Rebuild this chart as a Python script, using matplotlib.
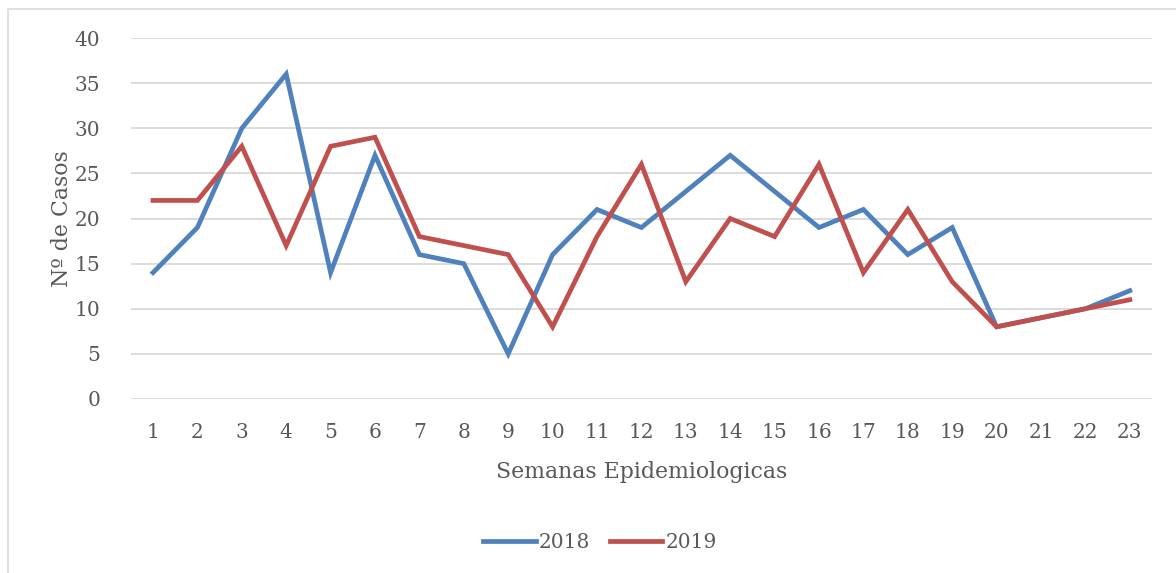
import matplotlib
matplotlib.use("Agg")
import matplotlib.pyplot as plt
from matplotlib.patches import Rectangle

weeks = list(range(1, 24))
cases_2018 = [14, 19, 30, 36, 14, 27, 16, 15, 5, 16, 21, 19, 23, 27, 23, 19, 21, 16, 19, 8, 9, 10, 12]
cases_2019 = [22, 22, 28, 17, 28, 29, 18, 17, 16, 8, 18, 26, 13, 20, 18, 26, 14, 21, 13, 8, 9, 10, 11]
y_ticks = [0, 5, 10, 15, 20, 25, 30, 35, 40]

plt.rcParams['font.family'] = ['DejaVu Serif']
txt = '#595959'

fig = plt.figure(figsize=(11.76, 5.73), dpi=100)
fig.patches.append(Rectangle((8/1176, -0.05), 1.2, 1 - 9/573 + 0.05, transform=fig.transFigure,
                             fill=False, edgecolor='#d9d9d9', linewidth=1.2))
ax = fig.add_axes([130.8/1176, 1 - 399/573, (1152 - 130.8)/1176, (399 - 38)/573])

ax.plot(weeks, cases_2018, color='#4f81bd', linewidth=3.4, label='2018', solid_joinstyle='miter')
ax.plot(weeks, cases_2019, color='#c0504d', linewidth=3.4, label='2019', solid_joinstyle='miter')

ax.set_xlim(0.5, 23.5)
ax.set_ylim(0, 40)
ax.set_xticks(weeks)
ax.set_yticks(y_ticks)
ax.tick_params(axis='both', length=0, labelsize=14.5, colors=txt)
ax.tick_params(axis='y', pad=22)
ax.tick_params(axis='x', pad=17)
ax.grid(axis='y', color='#d9d9d9', linewidth=1.3)
ax.set_axisbelow(True)
for s in ax.spines.values():
    s.set_visible(False)
ax.set_xlabel('Semanas Epidemiologicas', fontsize=15.8, color=txt, labelpad=14)
ax.set_ylabel('Nº de Casos', fontsize=15.8, color=txt, labelpad=1)

leg = fig.legend(loc='center', bbox_to_anchor=(600/1176, 1 - 543/573), ncol=2, frameon=False,
                 fontsize=14.5, handlelength=2.6, handletextpad=0.15, columnspacing=1.0)
for t in leg.get_texts():
    t.set_color(txt)

fig.savefig('out.png', dpi=100)
